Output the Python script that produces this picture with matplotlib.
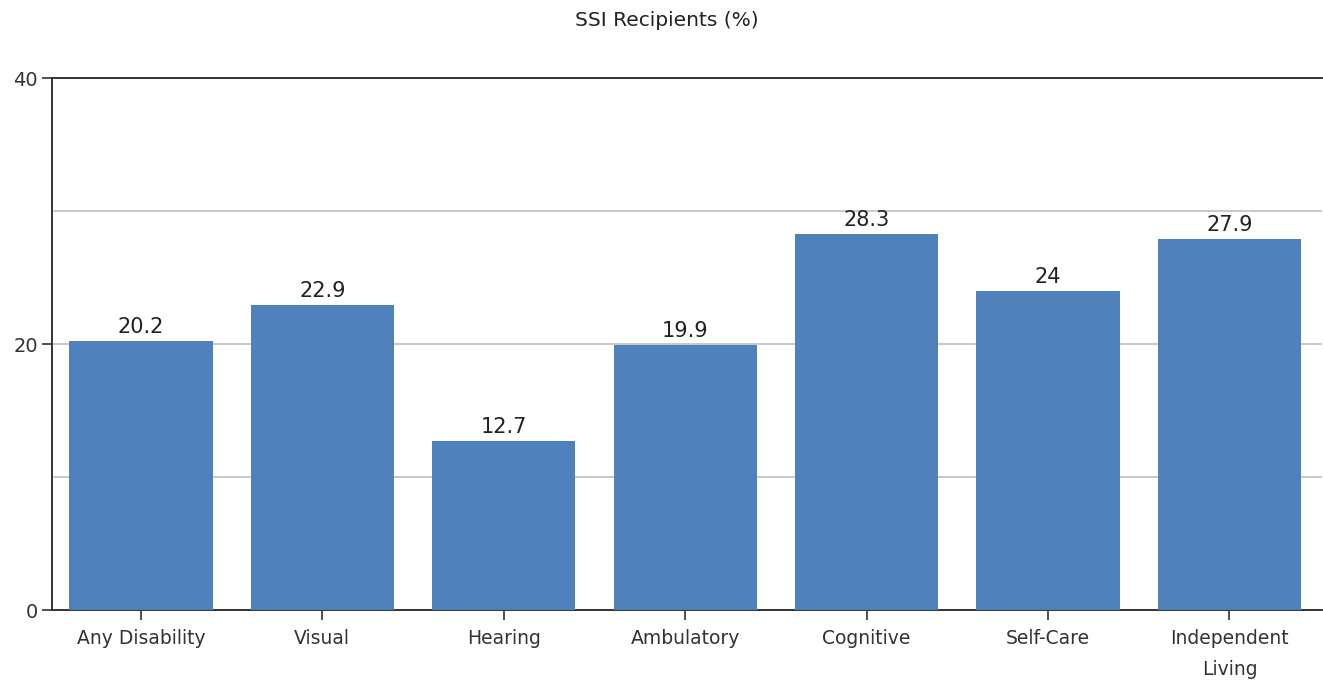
import matplotlib
matplotlib.use("Agg")
import matplotlib.pyplot as plt

categories = ["Any Disability", "Visual", "Hearing", "Ambulatory",
              "Cognitive", "Self-Care", "Independent\nLiving"]
values = [20.2, 22.9, 12.7, 19.9, 28.3, 24, 27.9]
value_labels = ["20.2", "22.9", "12.7", "19.9", "28.3", "24", "27.9"]
y_ticks = [0, 20, 40]
grid_levels = [10, 20, 30]

plt.rcParams["font.family"] = ["DejaVu Sans"]

fig = plt.figure(figsize=(13.23, 6.83), dpi=100)
ax = fig.add_axes([52 / 1323, 1 - 610 / 683, 1270 / 1323, 532 / 683])

x = list(range(len(categories)))
ax.bar(x, values, width=0.79, color="#4F81BD", zorder=3)

for level in grid_levels:
    ax.axhline(level, color="#c0c0c0", linewidth=1.2, zorder=1)

for xi, v, lab in zip(x, values, value_labels):
    ax.text(xi, v + 0.3, lab, ha="center", va="bottom", fontsize=15, color="#222222")

ax.set_xlim(-0.49, 6.51)
ax.set_ylim(0, 40)
ax.set_yticks(y_ticks)
ax.set_yticklabels([str(t) for t in y_ticks], fontsize=14, color="#333333")
ax.set_xticks(x)
ax.set_xticklabels(categories, fontsize=13.5, color="#333333", linespacing=1.75)

ax.tick_params(axis="both", length=7, width=1.2, color="#333333")
ax.tick_params(axis="x", pad=7)
ax.tick_params(axis="y", pad=3)

for side in ("left", "bottom", "top"):
    ax.spines[side].set_color("#333333")
    ax.spines[side].set_linewidth(1.4)
ax.spines["right"].set_visible(False)

fig.text(667 / 1323, 1 - 21 / 683, "SSI Recipients (%)", ha="center", va="center",
         fontsize=14.5, color="#222222")

fig.savefig("out.png", dpi=100, facecolor="white")
